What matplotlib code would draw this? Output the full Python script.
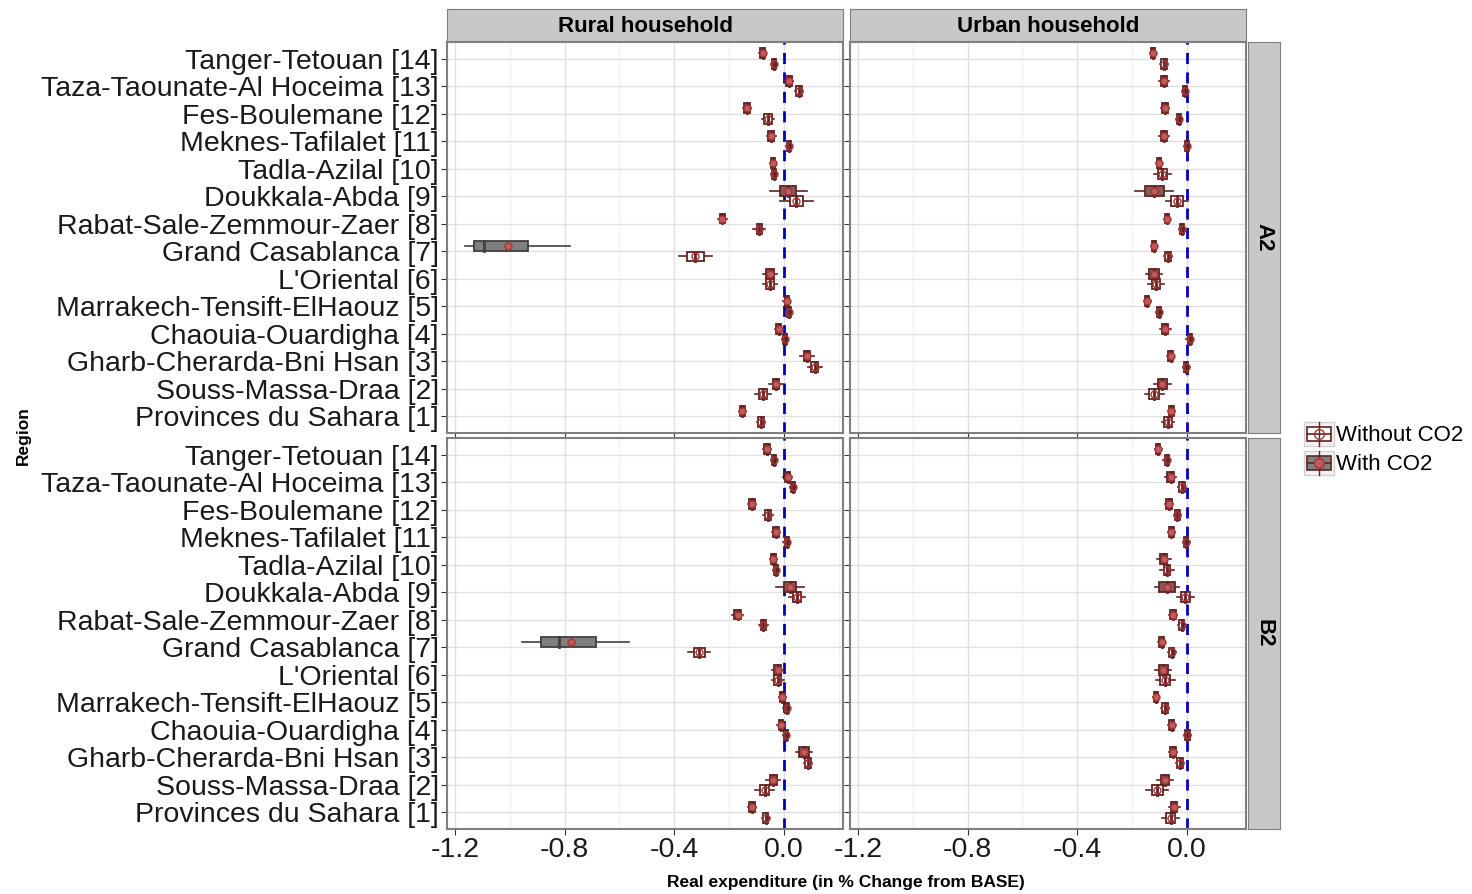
import matplotlib
matplotlib.use("Agg")
import matplotlib.pyplot as plt
from matplotlib.patches import Rectangle

plt.rcParams['font.family'] = ['Liberation Sans', 'DejaVu Sans']

regions = ["Provinces du Sahara [1]", "Souss-Massa-Draa [2]", "Gharb-Cherarda-Bni Hsan [3]",
           "Chaouia-Ouardigha [4]", "Marrakech-Tensift-ElHaouz [5]", "L'Oriental [6]",
           "Grand Casablanca [7]", "Rabat-Sale-Zemmour-Zaer [8]", "Doukkala-Abda [9]",
           "Tadla-Azilal [10]", "Meknes-Tafilalet [11]", "Fes-Boulemane [12]",
           "Taza-Taounate-Al Hoceima [13]", "Tanger-Tetouan [14]"]
scenarios = ["A2", "B2"]
households = ["Rural household", "Urban household"]
groups = ["Without CO2", "With CO2"]

# medians, regions [1]..[14]
med = {
    ("A2", "Rural", "With"):    [-0.152, -0.030, 0.083, -0.020, 0.010, -0.050, -1.095, -0.225, 0.015, -0.040, -0.047, -0.135, 0.018, -0.078],
    ("A2", "Rural", "Without"): [-0.084, -0.077, 0.112, 0.003, 0.018, -0.050, -0.323, -0.090, 0.045, -0.036, 0.018, -0.058, 0.055, -0.037],
    ("A2", "Urban", "With"):    [-0.057, -0.090, -0.060, -0.080, -0.145, -0.120, -0.120, -0.073, -0.120, -0.102, -0.084, -0.080, -0.084, -0.124],
    ("A2", "Urban", "Without"): [-0.070, -0.120, -0.003, 0.010, -0.102, -0.113, -0.070, -0.019, -0.036, -0.090, 0.000, -0.029, -0.007, -0.084],
    ("B2", "Rural", "With"):    [-0.116, -0.039, 0.073, -0.012, -0.006, -0.023, -0.822, -0.169, 0.022, -0.039, -0.030, -0.116, 0.013, -0.063],
    ("B2", "Rural", "Without"): [-0.067, -0.070, 0.088, 0.007, 0.010, -0.023, -0.310, -0.075, 0.047, -0.030, 0.010, -0.058, 0.033, -0.037],
    ("B2", "Urban", "With"):    [-0.047, -0.080, -0.052, -0.056, -0.113, -0.087, -0.093, -0.052, -0.073, -0.085, -0.057, -0.066, -0.060, -0.105],
    ("B2", "Urban", "Without"): [-0.060, -0.108, -0.025, 0.001, -0.080, -0.080, -0.056, -0.020, -0.006, -0.073, -0.003, -0.035, -0.018, -0.074],
}
# box half-width (half IQR)
box_half = {
    ("A2", "Rural", "With"):    [0.010, 0.012, 0.012, 0.008, 0.008, 0.014, 0.10, 0.010, 0.030, 0.008, 0.010, 0.010, 0.010, 0.010],
    ("A2", "Rural", "Without"): [0.010, 0.014, 0.012, 0.008, 0.008, 0.014, 0.030, 0.010, 0.025, 0.008, 0.008, 0.014, 0.010, 0.008],
    ("A2", "Urban", "With"):    [0.010, 0.016, 0.010, 0.010, 0.008, 0.018, 0.008, 0.008, 0.035, 0.008, 0.010, 0.010, 0.012, 0.008],
    ("A2", "Urban", "Without"): [0.014, 0.018, 0.008, 0.008, 0.008, 0.016, 0.010, 0.008, 0.022, 0.016, 0.008, 0.008, 0.008, 0.010],
    ("B2", "Rural", "With"):    [0.010, 0.014, 0.018, 0.008, 0.008, 0.012, 0.10, 0.012, 0.022, 0.008, 0.010, 0.010, 0.010, 0.010],
    ("B2", "Rural", "Without"): [0.010, 0.016, 0.010, 0.008, 0.008, 0.012, 0.020, 0.010, 0.016, 0.008, 0.008, 0.010, 0.008, 0.008],
    ("B2", "Urban", "With"):    [0.012, 0.014, 0.010, 0.010, 0.008, 0.016, 0.010, 0.010, 0.030, 0.012, 0.010, 0.010, 0.014, 0.008],
    ("B2", "Urban", "Without"): [0.016, 0.020, 0.010, 0.008, 0.010, 0.018, 0.010, 0.010, 0.016, 0.012, 0.008, 0.010, 0.010, 0.008],
}
# whisker half-span
whisk_half = {
    ("A2", "Rural", "With"):    [0.014, 0.025, 0.025, 0.012, 0.012, 0.025, 0.19, 0.017, 0.068, 0.012, 0.016, 0.014, 0.016, 0.014],
    ("A2", "Rural", "Without"): [0.014, 0.028, 0.025, 0.012, 0.012, 0.025, 0.060, 0.022, 0.060, 0.012, 0.012, 0.022, 0.014, 0.012],
    ("A2", "Urban", "With"):    [0.014, 0.030, 0.014, 0.020, 0.012, 0.030, 0.012, 0.012, 0.070, 0.012, 0.018, 0.014, 0.020, 0.012],
    ("A2", "Urban", "Without"): [0.022, 0.035, 0.012, 0.012, 0.012, 0.030, 0.014, 0.012, 0.040, 0.030, 0.012, 0.012, 0.012, 0.014],
    ("B2", "Rural", "With"):    [0.014, 0.025, 0.030, 0.012, 0.012, 0.022, 0.19, 0.020, 0.050, 0.012, 0.014, 0.014, 0.016, 0.014],
    ("B2", "Rural", "Without"): [0.014, 0.035, 0.014, 0.012, 0.012, 0.022, 0.040, 0.018, 0.030, 0.012, 0.012, 0.018, 0.012, 0.012],
    ("B2", "Urban", "With"):    [0.020, 0.030, 0.014, 0.014, 0.012, 0.030, 0.014, 0.014, 0.045, 0.025, 0.014, 0.014, 0.020, 0.012],
    ("B2", "Urban", "Without"): [0.030, 0.040, 0.014, 0.012, 0.014, 0.035, 0.014, 0.014, 0.030, 0.025, 0.012, 0.014, 0.014, 0.012],
}
# Grand Casablanca [7] rural, With CO2 is skewed: q1, q3, whisker lo, whisker hi, mean
casablanca = {
    "A2": (-1.130, -0.935, -1.164, -0.780, -1.008),
    "B2": (-0.885, -0.687, -0.954, -0.567, -0.778),
}

XLIM = (-1.229, 0.215)
W = 1472
H = 894
fig = plt.figure(figsize=(W / 100, H / 100), dpi=100)
fig.patch.set_facecolor("white")

panel_x = {"Rural": 447, "Urban": 850}
panel_y = {"A2": 42, "B2": 438}
pw, ph = 396, 391
offs = {"With": 0.19, "Without": -0.19}
hbox = 0.36
edge = "#5e2424"
fills = {"With": "#8a5a5a", "Without": "white"}
mfill = {"With": "#b86060", "Without": "white"}


def rect(x, y, w, h):
    return [x / W, 1 - (y + h) / H, w / W, h / H]


for sc in scenarios:
    for hh in ["Rural", "Urban"]:
        ax = fig.add_axes(rect(panel_x[hh], panel_y[sc], pw, ph))
        ax.set_xlim(*XLIM)
        ax.set_ylim(0.4, 14.6)
        ax.set_xticks([-1.2, -0.8, -0.4, 0.0])
        ax.set_xticks([-1.0, -0.6, -0.2, 0.2], minor=True)
        ax.set_yticks(range(1, 15))
        ax.grid(True, which="major", color="#e0e0e0", lw=1.0)
        ax.grid(True, which="minor", axis="x", color="#f0f0f0", lw=0.8)
        ax.set_axisbelow(True)
        for s in ax.spines.values():
            s.set_color("#7f7f7f")
            s.set_linewidth(1.5)
        ax.tick_params(which="both", length=0)
        ax.tick_params(axis="both", which="major", length=4, color="#333333", labelsize=20.5,
                       labelcolor="#1a1a1a", pad=2)
        if hh == "Rural":
            ax.set_yticklabels(regions)
        else:
            ax.set_yticklabels([])
        if sc == "A2":
            ax.set_xticklabels([])
        else:
            ax.set_xticklabels(["-1.2", "-0.8", "-0.4", "0.0"])
        ax.axvline(0, color="#0000bb", lw=2, ls=(0, (4, 3)), zorder=1)
        for g in ["With", "Without"]:
            key = (sc, hh, g)
            for i in range(14):
                y = i + 1 + offs[g]
                m = med[key][i]
                fc = fills[g]
                if hh == "Rural" and g == "With" and i == 6:
                    q1, q3, wl, wh, mean = casablanca[sc]
                    ec = "#404040"
                    fc = "#7f7f7f"
                else:
                    q1, q3 = m - box_half[key][i], m + box_half[key][i]
                    wl, wh = m - whisk_half[key][i], m + whisk_half[key][i]
                    mean = m
                    ec = edge
                ax.plot([wl, q1], [y, y], color=ec, lw=1.2, zorder=2)
                ax.plot([q3, wh], [y, y], color=ec, lw=1.2, zorder=2)
                ax.add_patch(Rectangle((q1, y - hbox / 2), q3 - q1, hbox, facecolor=fc,
                                       edgecolor=ec, lw=1.3, zorder=3))
                ax.plot([m, m], [y - hbox / 2, y + hbox / 2], color=ec, lw=2, zorder=4)
                ax.plot(mean, y, "o", ms=5, mfc="none" if g == "Without" else mfill[g],
                        mec="#b03030", mew=1.0, zorder=5)

# strips
for hh, lab in zip(["Rural", "Urban"], households):
    sax = fig.add_axes(rect(panel_x[hh], 9, pw, 32))
    sax.set_facecolor("#c8c8c8")
    sax.set_xticks([]); sax.set_yticks([])
    for s in sax.spines.values():
        s.set_color("#7f7f7f")
    sax.text(0.5, 0.45, lab, ha="center", va="center", fontsize=16, fontweight="bold",
             transform=sax.transAxes)
for sc in scenarios:
    sax = fig.add_axes(rect(1248, panel_y[sc], 32, ph))
    sax.set_facecolor("#c8c8c8")
    sax.set_xticks([]); sax.set_yticks([])
    for s in sax.spines.values():
        s.set_color("#7f7f7f")
    sax.text(0.5, 0.5, sc, ha="center", va="center", fontsize=16, fontweight="bold",
             rotation=-90, transform=sax.transAxes)

fig.text(23 / W, 1 - 436 / H, "Region", rotation=90, ha="center", va="center",
         fontsize=12.5, fontweight="bold")
fig.text(846 / W, 1 - 883 / H, "Real expenditure (in % Change from BASE)", ha="center",
         va="center", fontsize=12.5, fontweight="bold")

# legend
lax = fig.add_axes(rect(1302, 418, 170, 64))
lax.set_xlim(0, 170); lax.set_ylim(64, 0)
lax.axis("off")
for j, g in enumerate(["Without", "With"]):
    yc = 16 + j * 29
    lax.add_patch(Rectangle((2, yc - 12), 30, 24, facecolor="#f2f2f2", edgecolor="#d0d0d0", lw=1))
    lax.plot([17, 17], [yc - 12, yc + 12], color=edge, lw=1)
    lax.add_patch(Rectangle((5, yc - 7), 24, 14, facecolor="white" if g == "Without" else "#7f7f7f",
                            edgecolor=edge, lw=1.2))
    lax.plot([5, 29], [yc, yc], color=edge, lw=1.2)
    lax.plot(17, yc, "o", ms=7, mfc="none" if g == "Without" else mfill[g], mec="#b03030")
    lax.text(34, yc + 1, groups[0] if g == "Without" else groups[1], va="center", fontsize=16)

fig.savefig("out.png", dpi=100, facecolor="white")
